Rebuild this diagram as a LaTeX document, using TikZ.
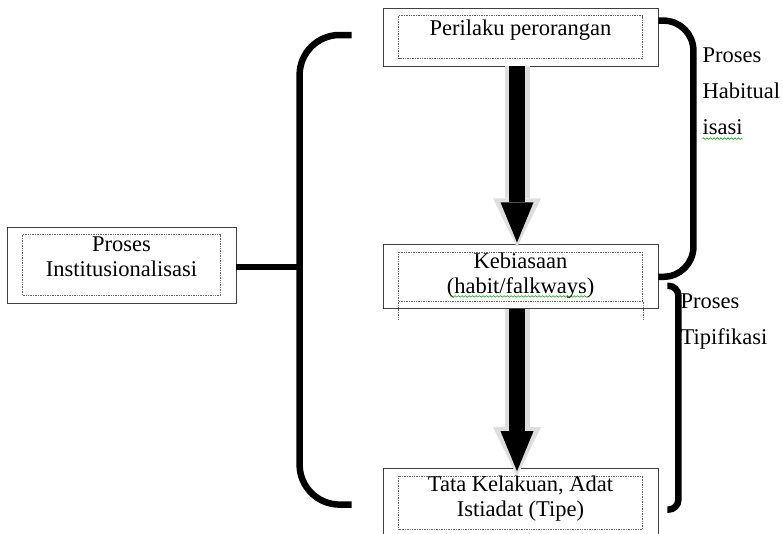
\documentclass[tikz,border=0pt]{standalone}
\usepackage{fontspec}
\setmainfont{Liberation Serif}
\usetikzlibrary{arrows.meta, positioning, decorations.pathmorphing}
\tikzset{
  outerbox/.style={rectangle, draw=black!75, line width=0.8pt, minimum width=275pt,
                   inner sep=0pt,
                   path picture={\draw[dotframe]
                     ([shift={(15.5pt,-7.5pt)}]path picture bounding box.north west) rectangle
                     ([shift={(-15.5pt,7.5pt)}]path picture bounding box.south east);}},
  dotframe/.style={draw=black!60, densely dotted, line width=0.7pt},
  boxtext/.style={font=\fontsize{22.5}{24.5}\selectfont, align=center, anchor=base,
                  inner sep=0pt},
  sidetext/.style={font=\fontsize{22.5}{36}\selectfont, align=left, anchor=base west,
                   inner sep=0pt},
  brace/.style={draw=black, line width=6.5pt},
  bigarrow/.style={draw=black, line width=16pt, shorten >=5pt,
                   -{Triangle[width=33pt, length=40pt, line width=0pt]},
                   preaction={draw=black!13, line width=25pt, shorten >=0pt,
                              -{Triangle[width=48pt, length=49pt, line width=0pt]}}},
  squiggle/.style={draw=green!55!black, line width=0.5pt, decorate,
                   decoration={snake, amplitude=0.8pt, segment length=3.5pt}},
}

\begin{document}
\begin{tikzpicture}[x=1pt, y=-1pt]
  \useasboundingbox (0,0) rectangle (783,533);

  % Boxes on the right
  \node[outerbox, minimum height=58pt] (perilaku) at (520.5,37) {};
  \node[outerbox, minimum height=64pt, below=178pt of perilaku] (kebiasaan) {};
  \node[outerbox, minimum height=68pt, below=159pt of kebiasaan] (tata) {};

  % Box on the left
  \node[outerbox, minimum width=229pt, minimum height=76pt] (inst) at (121.5,265) {};

  % Texts (anchored at the baseline of the last line)
  \node[boxtext] (perilaku-text) at ([yshift=-27.5pt]perilaku.north) {Perilaku perorangan};
  \node[boxtext] (kebiasaan-text) at ([yshift=-49pt]kebiasaan.north) {Kebiasaan\\(habit/falkways)};
  \node[boxtext] (tata-text) at ([yshift=-48pt]tata.north) {Tata Kelakuan, Adat\\Istiadat (Tipe)};
  \node[boxtext] (inst-text) at ([yshift=-49.5pt]inst.north) {Proses\\Institusionalisasi};

  % dotted frame of Kebiasaan runs out below the box
  \draw[dotframe] ([shift={(15.5pt,7.5pt)}]kebiasaan.south west) -- ++(0pt,-18.5pt);
  \draw[dotframe] ([shift={(-15.5pt,7.5pt)}]kebiasaan.south east) -- ++(0pt,-18.5pt);

  % Arrows
  \draw[bigarrow] ([xshift=-3.5pt]perilaku.south) -- ([xshift=-3.5pt,yshift=-3pt]kebiasaan.north);
  \draw[bigarrow] ([xshift=-3.5pt]kebiasaan.south) -- ([xshift=-3.5pt,yshift=-8pt]tata.north);

  % Big brace on the left
  \coordinate (lb-top) at ([xshift=-31pt,yshift=2pt]perilaku.west);
  \coordinate (lb-bot) at ([xshift=-31pt,yshift=-2pt]tata.west);
  \draw[brace, rounded corners=40pt] (lb-top) -- ++(-52,0) |- (lb-bot);
  \draw[brace] ([yshift=-2pt]inst.east) -- ++(64,0);

  % Braces on the right
  \draw[brace, rounded corners=30pt] ([yshift=-13pt]perilaku.north east) -- ++(35,0) |- (kebiasaan.east);
  \draw[brace, rounded corners=10pt] ([shift={(9pt,-9pt)}]kebiasaan.east) -- ++(11,0) |- ([shift={(9pt,-7pt)}]tata.east);

  \node[sidetext] (habitual-label) at ([shift={(44pt,-127pt)}]perilaku.north east) {Proses\\Habitual\\isasi};
  \node[sidetext] (tipifikasi-label) at ([shift={(22pt,-35pt)}]kebiasaan.south east) {Proses\\Tipifikasi};

  % spelling marks
  \draw[squiggle] ([yshift=-4pt]habitual-label.base west) -- ++(40pt,0pt);
  \draw[squiggle] ([shift={(-70pt,-3pt)}]kebiasaan-text.base) -- ++(137pt,0pt);
\end{tikzpicture}
\end{document}
